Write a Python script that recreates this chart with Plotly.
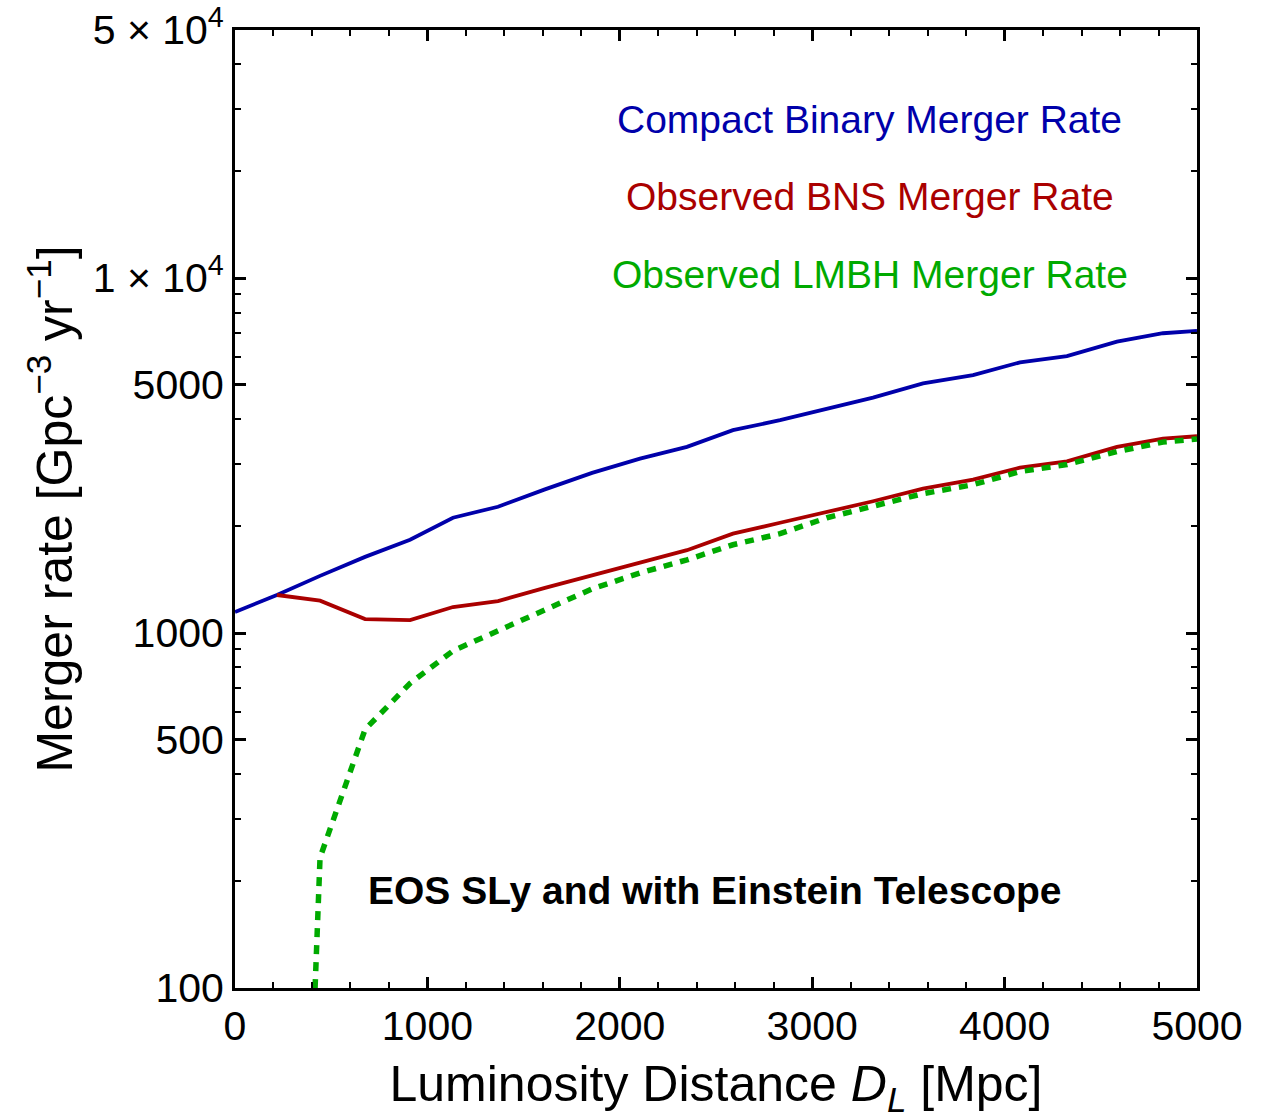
import plotly.graph_objects as go

# Luminosity distance grid [Mpc]
dist_cbm = [0, 218, 442, 676, 910, 1133, 1367, 1611, 1856, 2105, 2349, 2588,
            2833, 3077, 3316, 3576, 3836, 4080, 4324, 4584, 4823, 5000]
# Compact binary merger rate [Gpc^-3 yr^-1]
rate_cbm = [1146, 1280, 1449, 1639, 1831, 2113, 2269, 2540, 2826, 3101, 3346, 3729,
            3979, 4294, 4603, 5050, 5332, 5789, 6032, 6625, 6993, 7099]

# Observed BNS merger rate
dist_bns = [218, 442, 676, 910, 1133, 1367, 1611, 1856, 2105, 2349, 2588,
            2833, 3077, 3316, 3576, 3836, 4080, 4324, 4584, 4823, 5000]
rate_bns = [1280, 1234, 1095, 1088, 1184, 1231, 1340, 1458, 1580, 1712, 1905,
            2045, 2193, 2351, 2552, 2706, 2925, 3047, 3346, 3532, 3585]

# Observed LMBH merger rate
dist_lmbh = [218, 442, 676, 910, 1133, 1367, 1611, 1856, 2105, 2349, 2588,
             2833, 3077, 3316, 3576, 3836, 4080, 4324, 4584, 4823, 5000]
rate_lmbh = [0.15, 233, 535, 722, 891, 1015, 1154, 1332, 1477, 1608, 1773,
             1905, 2113, 2269, 2470, 2619, 2850, 2983, 3246, 3451, 3521]

y_major = [100, 500, 1000, 5000, 10000, 50000]
y_major_text = ["100", "500", "1000", "5000", "1 × 10<sup>4</sup>", "5 × 10<sup>4</sup>"]
y_minor = [200, 300, 400, 600, 700, 800, 900, 2000, 3000, 4000,
           6000, 7000, 8000, 9000, 20000, 30000, 40000]
x_major = [0, 1000, 2000, 3000, 4000, 5000]
x_minor = [200, 400, 600, 800, 1200, 1400, 1600, 1800, 2200, 2400, 2600, 2800,
           3200, 3400, 3600, 3800, 4200, 4400, 4600, 4800]

BLUE = "#0000aa"
RED = "#aa0000"
GREEN = "#00aa00"
FONT = "Liberation Sans, Arial, sans-serif"

fig = go.Figure()
fig.add_trace(go.Scatter(x=dist_cbm, y=rate_cbm, mode="lines",
                         line=dict(color=BLUE, width=3.8), name="Compact Binary Merger Rate"))
fig.add_trace(go.Scatter(x=dist_bns, y=rate_bns, mode="lines",
                         line=dict(color=RED, width=3.8), name="Observed BNS Merger Rate"))
fig.add_trace(go.Scatter(x=dist_lmbh, y=rate_lmbh, mode="lines",
                         line=dict(color=GREEN, width=5.5, dash="9px,8px"),
                         name="Observed LMBH Merger Rate"))

axis_common = dict(
    showgrid=False, zeroline=False, automargin=False,
    showline=True, linecolor="black", linewidth=3, mirror="allticks",
    ticks="inside", tickcolor="black", tickwidth=2.5, ticklen=11,
    tickfont=dict(family=FONT, size=41, color="black"),
)

fig.update_xaxes(
    range=[0, 5000], tickvals=x_major, ticktext=[str(v) for v in x_major],
    minor=dict(tickvals=x_minor, ticks="inside", ticklen=6, tickwidth=2.2, tickcolor="black"),
    title=dict(text="Luminosity Distance <i>D<sub>L</sub></i> [Mpc]",
               font=dict(family=FONT, size=50, color="black"), standoff=38),
    **axis_common,
)
fig.update_yaxes(
    type="log", range=[2, 4.69897], tickvals=y_major, ticktext=y_major_text,
    minor=dict(tickvals=y_minor, ticks="inside", ticklen=6, tickwidth=2.2, tickcolor="black"),
    title=dict(text="Merger rate [Gpc<sup>−3</sup> yr<sup>−1</sup>]",
               font=dict(family=FONT, size=50, color="black"), standoff=5),
    **axis_common,
)

# Curve labels, positioned in data coordinates (y as log10 of the rate)
labels = [("Compact Binary Merger Rate", BLUE, 4.446),
          ("Observed BNS Merger Rate", RED, 4.229),
          ("Observed LMBH Merger Rate", GREEN, 4.011)]
for text, color, ylog in labels:
    fig.add_annotation(x=3298, y=ylog, xref="x", yref="y", text=text,
                       showarrow=False, xanchor="center", yanchor="middle",
                       font=dict(family=FONT, size=39, color=color))

fig.add_annotation(x=2495, y=2.274, xref="x", yref="y",
                   text="<b>EOS SLy and with Einstein Telescope</b>",
                   showarrow=False, xanchor="center", yanchor="middle",
                   font=dict(family=FONT, size=39, color="black"))

fig.update_layout(
    width=1271, height=1119,
    margin=dict(l=235, r=74, t=30, b=131),
    paper_bgcolor="white", plot_bgcolor="white",
    showlegend=False,
)

fig.write_html("out.html")
